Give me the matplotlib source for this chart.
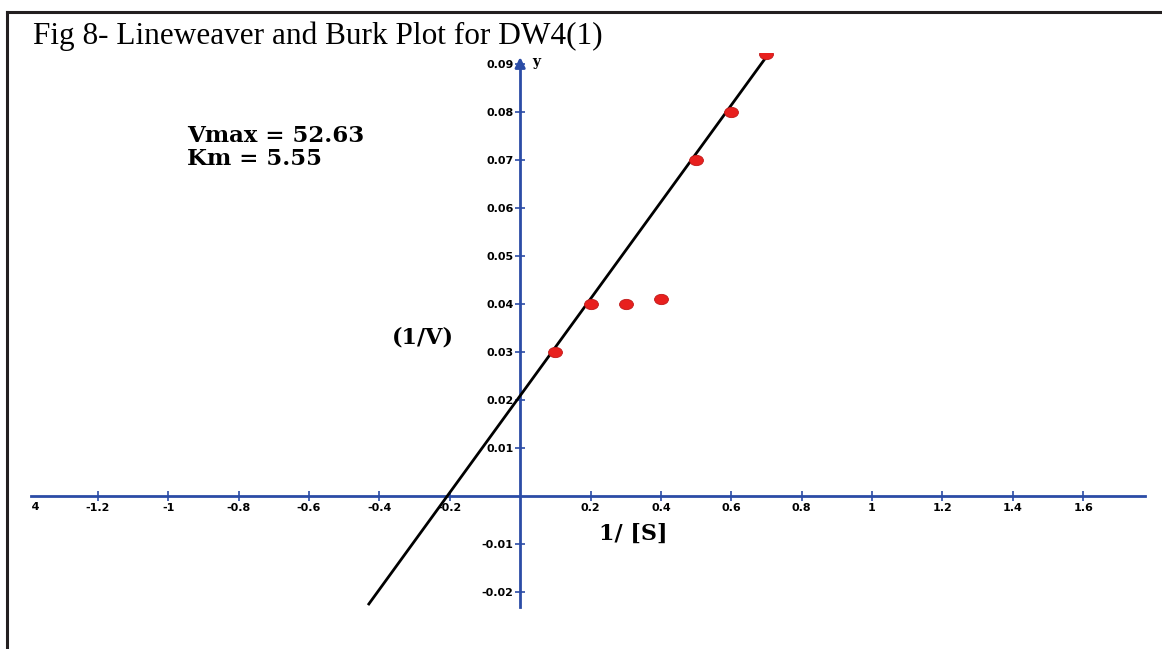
import numpy as np
import matplotlib.pyplot as plt
from matplotlib.path import Path
from matplotlib.transforms import Affine2D
from matplotlib.lines import Line2D

# data
s_inv = [0.1, 0.2, 0.3, 0.4, 0.5, 0.6, 0.7]
v_inv = [0.030, 0.040, 0.040, 0.041, 0.070, 0.080, 0.092]

fit_x = [-0.43, 0.695]
fit_y = [-0.0225, 0.0910]

xticks = [-1.2, -1.0, -0.8, -0.6, -0.4, -0.2, 0.2, 0.4, 0.6, 0.8, 1.0, 1.2, 1.4, 1.6]
xlabels = ["-1.2", "-1", "-0.8", "-0.6", "-0.4", "-0.2", "0.2", "0.4", "0.6", "0.8", "1", "1.2", "1.4", "1.6"]
yticks = [-0.02, -0.01, 0.01, 0.02, 0.03, 0.04, 0.05, 0.06, 0.07, 0.08, 0.09]
ylabels = ["-0.02", "-0.01", "0.01", "0.02", "0.03", "0.04", "0.05", "0.06", "0.07", "0.08", "0.09"]

vmax = 52.63
km = 5.55

blue = "#2b4ca6"
serif = "Liberation Serif"
bold_serif = "DejaVu Serif"

fig = plt.figure(figsize=(11.62, 6.49), dpi=100)
ax = fig.add_axes([0.0267, 0.0139, 0.963, 0.9039])
ax.set_xlim(-1.39, 1.79)
ax.set_ylim(-0.030, 0.0922)

# axes through the origin
for side in ["top", "right"]:
    ax.spines[side].set_visible(False)
ax.spines["left"].set_position(("data", 0))
ax.spines["bottom"].set_position(("data", 0))
ax.spines["left"].set_bounds(-0.0232, 0.0905)
ax.spines["bottom"].set_bounds(-1.39, 1.775)
for side in ["left", "bottom"]:
    ax.spines[side].set_color(blue)
    ax.spines[side].set_linewidth(2.0)

ax.set_xticks(xticks)
ax.set_xticklabels(xlabels)
ax.set_yticks(yticks)
ax.set_yticklabels(ylabels)
ax.tick_params(direction="inout", length=7.5, width=1.2, color=blue, pad=1,
               labelsize=8, labelcolor="black")
for lbl in ax.get_xticklabels() + ax.get_yticklabels():
    lbl.set_fontweight("bold")

# leftmost label is cut by the plot edge
ax.text(-1.4, -0.0012, "-1.4", fontsize=8, fontweight="bold", ha="center", va="top", clip_on=True)

# arrow head on y axis
ax.annotate("", xy=(0, 0.0920), xytext=(0, 0.0895),
            arrowprops=dict(arrowstyle="-|>,head_width=0.3,head_length=0.6", color=blue, lw=2.0),
            annotation_clip=False)
ax.text(0.035, 0.0905, "y", fontsize=10, fontweight="bold", family=bold_serif, va="center", ha="left")

# fit line and data points
ax.plot(fit_x, fit_y, color="black", linewidth=2.0, zorder=3)
ellipse = Path.unit_circle().transformed(Affine2D().scale(1.35, 1.0))
ax.plot(s_inv, v_inv, linestyle="none", marker=ellipse, markersize=10,
        markerfacecolor="#e8201e", markeredgecolor="#c01818", markeredgewidth=0.6, zorder=4)

# annotations
ax.text(-0.946, 0.07375, f"Vmax = {vmax}", fontsize=16.5, fontweight="bold", family=bold_serif, va="baseline")
ax.text(-0.946, 0.06896, f"Km = {km}", fontsize=16.5, fontweight="bold", family=bold_serif, va="baseline")
ax.text(-0.276, 0.0331, "(1/V)", fontsize=16, fontweight="bold", family=bold_serif, ha="center", va="center")
ax.text(0.321, -0.0079, "1/ [S]", fontsize=16, fontweight="bold", family=bold_serif, ha="center", va="center")

# title and frame
fig.text(0.0284, 0.9322, "Fig 8- Lineweaver and Burk Plot for DW4(1)", fontsize=22.5, family=serif,
         va="baseline", ha="left")
fig.add_artist(Line2D([0.006, 1.0], [0.9815, 0.9815], color="#231f20", linewidth=2.2))
fig.add_artist(Line2D([0.006, 0.006], [0.0, 0.9815], color="#231f20", linewidth=2.2))

fig.savefig("out.png", dpi=100)
